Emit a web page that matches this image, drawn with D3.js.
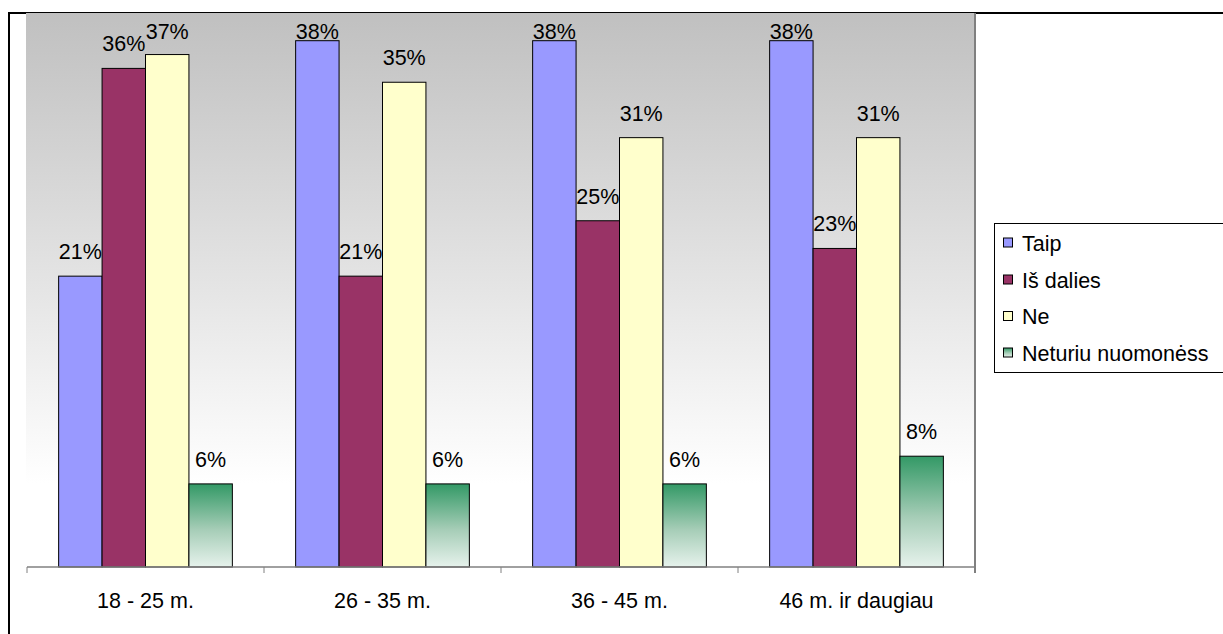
<!DOCTYPE html>
<html>
<head>
<meta charset="utf-8">
<script src="https://cdn.jsdelivr.net/npm/d3@7"></script>
<style>
  html, body { margin: 0; padding: 0; background: #fff; }
  svg { display: block; }
  text { font-family: "Liberation Sans", Arial, sans-serif; fill: #000; }
</style>
</head>
<body>
<svg id="chart" width="1223" height="634"></svg>
<script>
const categories = ["18 - 25 m.", "26 - 35 m.", "36 - 45 m.", "46 m. ir daugiau"];
const seriesNames = ["Taip", "Iš dalies", "Ne", "Neturiu nuomonėss"];
const taip = [21, 38, 38, 38];
const isDalies = [36, 21, 25, 23];
const ne = [37, 35, 31, 31];
const neturiu = [6, 6, 6, 8];
const yTicks = [0, 10, 20, 30, 40];

const seriesValues = [taip, isDalies, ne, neturiu];
const colors = ["#9999ff", "#993366", "#ffffcc", "url(#greenGrad)"];

const svg = d3.select("#chart");
const defs = svg.append("defs");

const bgGrad = defs.append("linearGradient").attr("id", "bgGrad")
  .attr("x1", 0).attr("y1", 0).attr("x2", 0).attr("y2", 1);
bgGrad.append("stop").attr("offset", "0%").attr("stop-color", "#c0c0c0");
bgGrad.append("stop").attr("offset", "85%").attr("stop-color", "#ffffff");
bgGrad.append("stop").attr("offset", "100%").attr("stop-color", "#ffffff");

const gGrad = defs.append("linearGradient").attr("id", "greenGrad")
  .attr("x1", 0).attr("y1", 0).attr("x2", 0).attr("y2", 1);
gGrad.append("stop").attr("offset", "0%").attr("stop-color", "#339966");
gGrad.append("stop").attr("offset", "55%").attr("stop-color", "#a6cdb7");
gGrad.append("stop").attr("offset", "100%").attr("stop-color", "#e6f2ec");

const plotLeft = 27, plotRight = 975, plotTop = 13, plotBottom = 567;

// outer border
svg.append("rect").attr("x", 9).attr("y", 13).attr("width", 1300).attr("height", 700)
  .attr("fill", "none").attr("stroke", "#000").attr("stroke-width", 2);

// plot background
svg.append("rect").attr("x", plotLeft - 1).attr("y", plotTop)
  .attr("width", plotRight - plotLeft + 1).attr("height", plotBottom - plotTop)
  .attr("fill", "url(#bgGrad)");

const x0 = d3.scaleBand().domain(categories).range([plotLeft, plotRight]).padding(0);
const bw = x0.bandwidth();
const x1 = d3.scaleBand().domain(seriesNames).range([bw * 0.1335, bw * 0.8665]).padding(0);
const y = d3.scaleLinear().domain([d3.min(yTicks), d3.max(yTicks)]).range([plotBottom, plotTop]);

const fontSize = "21.5px";

const data = [];
categories.forEach((c, ci) => {
  seriesNames.forEach((s, si) => {
    data.push({ cat: c, series: s, si: si, value: seriesValues[si][ci] });
  });
});

svg.append("g").selectAll("rect").data(data).join("rect")
  .attr("x", d => x0(d.cat) + x1(d.series))
  .attr("y", d => y(d.value))
  .attr("width", x1.bandwidth())
  .attr("height", d => plotBottom - y(d.value))
  .attr("fill", d => colors[d.si])
  .attr("stroke", "#000").attr("stroke-width", 1);

svg.append("g").selectAll("text").data(data).join("text")
  .attr("x", d => x0(d.cat) + x1(d.series) + x1.bandwidth() / 2)
  .attr("y", d => Math.max(y(d.value) - 17, plotTop + 26))
  .attr("text-anchor", "middle")
  .style("font-size", fontSize)
  .text(d => d.value + "%");

// x axis
const xAxis = d3.axisBottom(x0).tickSize(0).tickPadding(0);
const axisG = svg.append("g").attr("transform", `translate(0,${plotBottom})`).call(xAxis);
axisG.select(".domain").remove();
axisG.selectAll("text").remove();
axisG.append("line").attr("x1", plotLeft).attr("x2", plotRight).attr("y1", 0).attr("y2", 0)
  .attr("stroke", "#808080").attr("stroke-width", 1.5);
const bounds = categories.map(c => x0(c)).concat([plotRight]);
axisG.selectAll("line.tk").data(bounds).join("line").attr("class", "tk")
  .attr("x1", d => d).attr("x2", d => d).attr("y1", 0).attr("y2", 6)
  .attr("stroke", "#808080").attr("stroke-width", 1);
axisG.selectAll("text.cl").data(categories).join("text").attr("class", "cl")
  .attr("x", d => x0(d) + bw / 2).attr("y", 41)
  .attr("text-anchor", "middle").style("font-size", fontSize)
  .text(d => d);

// plot right border
svg.append("line").attr("x1", plotRight).attr("x2", plotRight).attr("y1", plotTop).attr("y2", plotBottom + 6)
  .attr("stroke", "#808080").attr("stroke-width", 2);

// legend
const leg = svg.append("g");
leg.append("rect").attr("x", 994.5).attr("y", 223.5).attr("width", 300).attr("height", 149)
  .attr("fill", "#fff").attr("stroke", "#000").attr("stroke-width", 1);
const rowY = [243, 280, 316.5, 353];
seriesNames.forEach((s, i) => {
  leg.append("rect").attr("x", 1003.5).attr("y", rowY[i] - 5).attr("width", 9).attr("height", 9)
    .attr("fill", colors[i]).attr("stroke", "#000").attr("stroke-width", 1);
  leg.append("text").attr("x", 1022).attr("y", rowY[i] + 7.5)
    .style("font-size", fontSize).text(s);
});
</script>
</body>
</html>
